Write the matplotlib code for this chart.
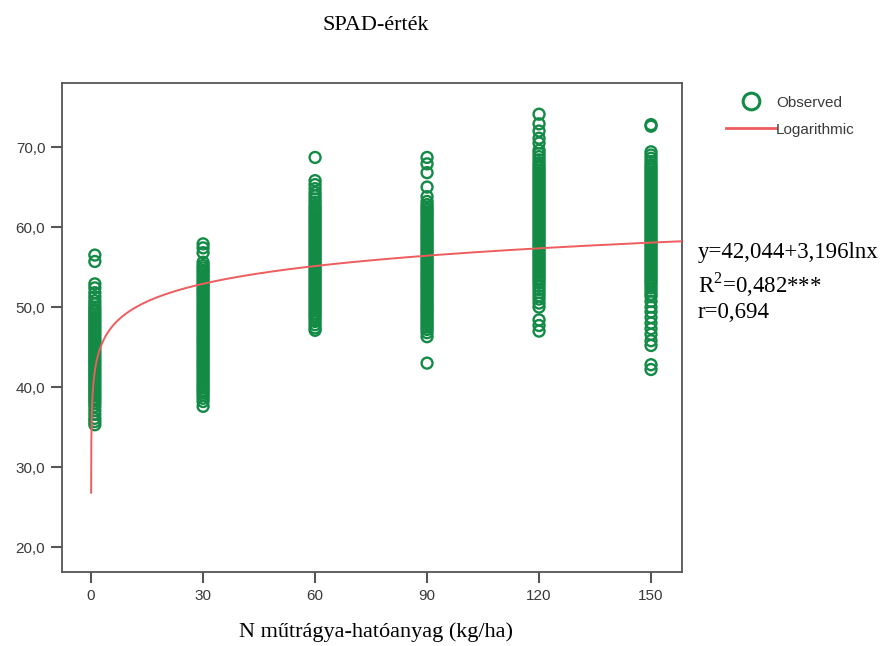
import numpy as np
import matplotlib
matplotlib.use("Agg")
import matplotlib.pyplot as plt
from matplotlib.lines import Line2D

plt.rcParams["mathtext.fontset"] = "custom"
plt.rcParams["mathtext.rm"] = "Liberation Serif"

# N doses (control plotted at 1 because of ln x)
doses = [1, 30, 60, 90, 120, 150]
tick_labels = ["0", "30", "60", "90", "120", "150"]

spad_0 = [56.5, 55.7, 52.9, 52.4, 51.8, 51.3, 50.8, 50.4, 50.0, 49.7, 49.4, 49.1, 48.8, 48.5,
          48.2, 47.9, 47.6, 47.3, 47.0, 46.7, 46.4, 46.1, 45.8, 45.5, 45.2, 44.9, 44.6, 44.3,
          44.0, 43.7, 43.4, 43.1, 42.8, 42.5, 42.2, 41.9, 41.6, 41.3, 41.0, 40.7, 40.4, 40.1,
          39.8, 39.5, 39.2, 38.9, 38.6, 38.3, 38.0, 37.6, 37.1, 36.6, 36.1, 35.7, 35.3]
spad_30 = [57.9, 57.4, 56.8, 55.6, 55.2, 54.9, 54.6, 54.3, 54.0, 53.7, 53.4, 53.1, 52.8, 52.5,
           52.2, 51.9, 51.6, 51.3, 51.0, 50.7, 50.4, 50.1, 49.8, 49.5, 49.2, 48.9, 48.6, 48.3,
           48.0, 47.7, 47.4, 47.1, 46.8, 46.5, 46.2, 45.9, 45.6, 45.3, 45.0, 44.7, 44.4, 44.1,
           43.8, 43.5, 43.2, 42.9, 42.6, 42.3, 42.0, 41.7, 41.4, 41.1, 40.8, 40.5, 40.2, 39.9,
           39.6, 39.3, 39.0, 38.6, 38.2, 37.6]
spad_60 = [68.7, 65.8, 65.3, 64.8, 64.3, 63.9, 63.5, 63.1, 62.7, 62.4, 62.1, 61.8, 61.5, 61.2,
           60.9, 60.6, 60.3, 60.0, 59.7, 59.4, 59.1, 58.8, 58.5, 58.2, 57.9, 57.6, 57.3, 57.0,
           56.7, 56.4, 56.1, 55.8, 55.5, 55.2, 54.9, 54.6, 54.3, 54.0, 53.7, 53.4, 53.1, 52.8,
           52.5, 52.2, 51.9, 51.6, 51.3, 51.0, 50.7, 50.4, 50.1, 49.8, 49.5, 49.2, 48.9, 48.6,
           48.2, 47.8, 47.4, 47.1]
spad_90 = [68.7, 67.9, 66.8, 65.0, 63.8, 63.2, 62.8, 62.5, 62.2, 61.9, 61.6, 61.3, 61.0, 60.7,
           60.4, 60.1, 59.8, 59.5, 59.2, 58.9, 58.6, 58.3, 58.0, 57.7, 57.4, 57.1, 56.8, 56.5,
           56.2, 55.9, 55.6, 55.3, 55.0, 54.7, 54.4, 54.1, 53.8, 53.5, 53.2, 52.9, 52.6, 52.3,
           52.0, 51.7, 51.4, 51.1, 50.8, 50.5, 50.2, 49.9, 49.6, 49.3, 49.0, 48.7, 48.4, 48.1,
           47.8, 47.5, 47.2, 46.8, 46.3, 43.0]
spad_120 = [74.1, 72.9, 72.0, 71.1, 70.5, 69.6, 69.2, 68.8, 68.4, 68.0, 67.7, 67.4, 67.1, 66.8,
            66.5, 66.2, 65.9, 65.6, 65.3, 65.0, 64.7, 64.4, 64.1, 63.8, 63.5, 63.2, 62.9, 62.6,
            62.3, 62.0, 61.7, 61.4, 61.1, 60.8, 60.5, 60.2, 59.9, 59.6, 59.3, 59.0, 58.7, 58.4,
            58.1, 57.8, 57.5, 57.2, 56.9, 56.6, 56.3, 56.0, 55.7, 55.4, 55.1, 54.8, 54.5, 54.2,
            53.9, 53.6, 53.3, 53.0, 52.6, 52.2, 51.8, 51.4, 51.0, 50.5, 50.0, 48.4, 47.7, 47.0]
spad_150 = [72.8, 72.6, 69.4, 69.0, 68.6, 68.2, 67.8, 67.5, 67.2, 66.9, 66.6, 66.3, 66.0, 65.7,
            65.4, 65.1, 64.8, 64.5, 64.2, 63.9, 63.6, 63.3, 63.0, 62.7, 62.4, 62.1, 61.8, 61.5,
            61.2, 60.9, 60.6, 60.3, 60.0, 59.7, 59.4, 59.1, 58.8, 58.5, 58.2, 57.9, 57.6, 57.3,
            57.0, 56.7, 56.4, 56.1, 55.8, 55.5, 55.2, 54.9, 54.6, 54.3, 54.0, 53.7, 53.4, 53.1,
            52.8, 52.4, 52.0, 51.6, 51.3, 50.7, 50.0, 49.4, 48.7, 48.0, 47.3, 46.6, 45.8, 45.2,
            42.8, 42.2]

# fitted model y = a + b ln x
a, b = 42.044, 3.196

green = "#138a45"
red = "#ee5c5e"
axis_gray = "#555555"

fig = plt.figure(figsize=(8.83, 6.46), dpi=100)
ax = fig.add_axes([62 / 883, 1 - 572 / 646, 620 / 883, 489 / 646])

groups = [spad_0, spad_30, spad_60, spad_90, spad_120, spad_150]
for d, vals in zip(doses, groups):
    ax.scatter([d] * len(vals), vals, s=62, facecolors="none", edgecolors=green,
               linewidths=1.7, zorder=2)

xs = np.linspace(0.0085, 160, 3000)
ax.plot(xs, a + b * np.log(xs), color=red, lw=1.4, zorder=3)

ax.set_xlim(-7.8, 158.3)
ax.set_ylim(16.9, 78.0)
ax.set_xticks([0, 30, 60, 90, 120, 150])
ax.set_xticklabels(tick_labels)
yt = [20, 30, 40, 50, 60, 70]
ax.set_yticks(yt)
ax.set_yticklabels([f"{v:.1f}".replace(".", ",") for v in yt])

for s in ax.spines.values():
    s.set_color(axis_gray)
    s.set_linewidth(1.3)
ax.tick_params(length=8, width=1.5, color=axis_gray, labelsize=11,
               labelcolor="#3a3a3a", pad=4)
for lab in ax.get_xticklabels() + ax.get_yticklabels():
    lab.set_family(["Liberation Sans", "DejaVu Sans"])

serif = ["Liberation Serif", "DejaVu Serif"]
fig.text(376 / 883, 1 - 25 / 646, "SPAD-érték", ha="center", va="center",
         family=serif, fontsize=16)
fig.text(376 / 883, 1 - 632 / 646, "N műtrágya-hatóanyag (kg/ha)", ha="center",
         va="center", family=serif, fontsize=16)

handles = [
    Line2D([], [], ls="none", marker="o", markersize=12, mfc="none", mec=green, mew=2.2),
    Line2D([], [], color=red, lw=2),
]
fig.legend(handles, ["Observed", "Logarithmic"], loc="upper left",
           bbox_to_anchor=(718 / 883, 1 - 88 / 646), frameon=False,
           prop={"family": ["Liberation Sans", "DejaVu Sans"], "size": 11},
           handlelength=3.3, handletextpad=0.0, labelspacing=0.85, borderpad=0,
           labelcolor="#3a3a3a")

eq_x = 698 / 883
fig.text(eq_x, 1 - 252 / 646, "y=42,044+3,196lnx", va="center", family=serif, fontsize=16.5)
fig.text(eq_x, 1 - 285 / 646, "R$^2$=0,482***", va="center", family=serif, fontsize=16.5)
fig.text(eq_x, 1 - 313 / 646, "r=0,694", va="center", family=serif, fontsize=16.5)

fig.savefig("out.png", dpi=100)
